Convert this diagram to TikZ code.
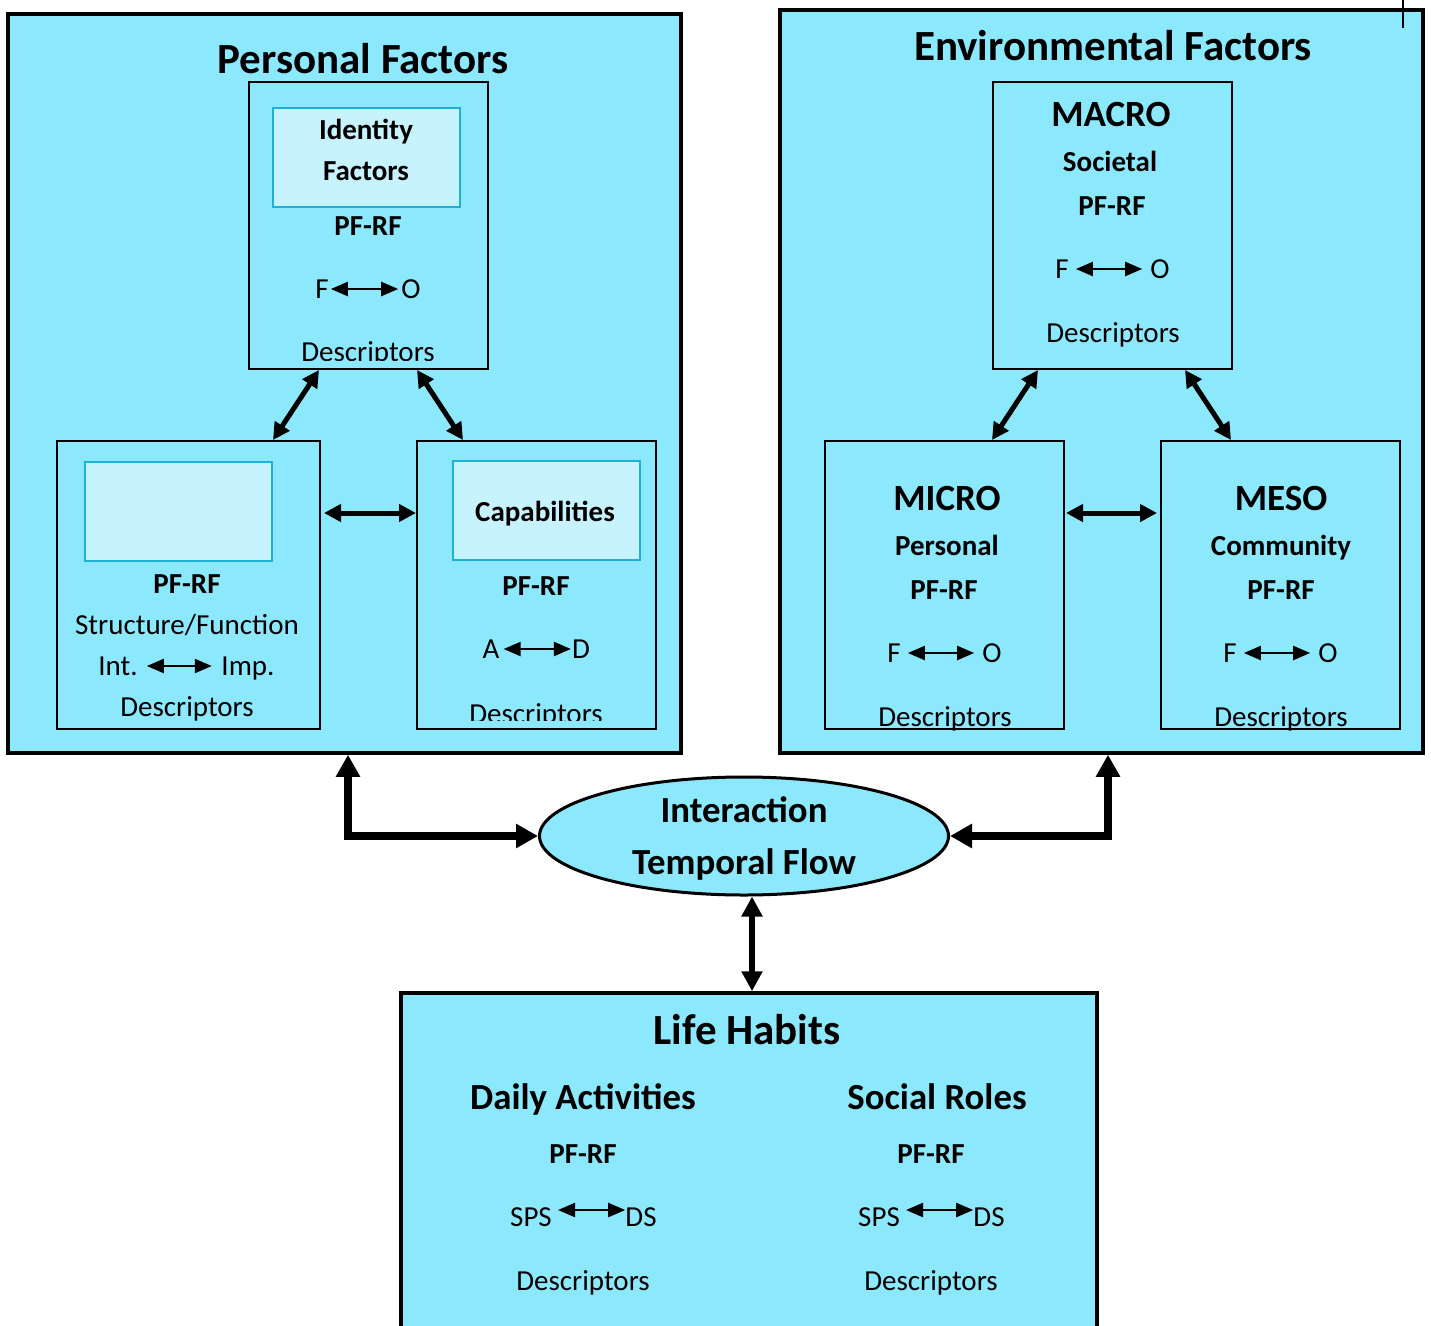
\documentclass[tikz,border=0pt]{standalone}
\usepackage{fontspec}
\setmainfont{Carlito}
\usetikzlibrary{arrows.meta,shapes.geometric}
\definecolor{panel}{RGB}{139,232,253}
\definecolor{inset}{RGB}{198,243,254}
\definecolor{insetline}{RGB}{30,176,214}

\begin{document}
\begin{tikzpicture}[x=1pt,y=-1pt,
  panelbox/.style={draw, line width=3.5pt, fill=panel, inner sep=0pt},
  subbox/.style={draw, line width=2pt, fill=panel, inner sep=0pt},
  litebox/.style={draw=insetline, line width=1.3pt, fill=inset, inner sep=0pt},
  ovalbox/.style={ellipse, draw, line width=3pt, fill=panel, inner sep=0pt},
  txt/.style={inner sep=0pt, text depth=0pt, anchor=center},
  r29/.style={txt, text height=18.3pt, font=\fontsize{29pt}{31pt}\selectfont},
  b29/.style={txt, text height=18.3pt, font=\fontsize{29pt}{31pt}\bfseries\selectfont},
  b36/.style={txt, text height=23.2pt, font=\fontsize{36.8pt}{39pt}\bfseries\selectfont},
  b37/.style={txt, text height=23.3pt, font=\fontsize{37pt}{39pt}\bfseries\selectfont},
  b42/.style={txt, text height=27.1pt, font=\fontsize{43pt}{45pt}\bfseries\selectfont},
  inl/.style={line width=2.2pt, {Triangle[length=17pt,width=14pt]}-{Triangle[length=17pt,width=14pt]}},
  midarrow/.style={line width=5pt, {Triangle[length=17pt,width=17pt]}-{Triangle[length=17pt,width=17pt]}},
  elbow/.style={line width=8pt, line join=miter, {Triangle[length=22pt,width=23pt]}-{Triangle[length=22pt,width=23pt]}},
  vlink/.style={line width=6pt, {Triangle[length=20pt,width=20pt]}-{Triangle[length=20pt,width=20pt]}}
]
\useasboundingbox (0,0) rectangle (1431,1325);
\clip (0,0) rectangle (1431,1325);

% ---------- Personal factors ----------
\node[panelbox, minimum width=673pt, minimum height=739pt] (pf) at (344.5,383.5) {};
\node[b42] (pft) at (363,60) {Personal Factors};

\node[subbox, minimum width=239pt, minimum height=287pt] (idb) at (368.5,225.5) {};
\node[litebox, minimum width=187pt, minimum height=99pt] (idl) at (366.5,157.5) {};
\node[b29] (idt1) at (366,130) {Identity};
\node[b29] (idt2) at (366,171) {Factors};
\node[b29] (idp) at (368,226) {PF-RF};
\node[r29] (idf) at (322,289) {F};
\node[r29] (ido) at (411,289) {O};
\draw[inl, shorten <=2pt, shorten >=3pt] (idf.east) -- (ido.west);
\begin{scope}
  \clip (249,82) rectangle (488,360);
  \node[r29] (idd) at (368,352.5) {Descriptors};
\end{scope}

\node[subbox, minimum width=263pt, minimum height=288pt] (sfb) at (188.5,585) {};
\node[litebox, minimum width=187pt, minimum height=99pt] (sfl) at (178.5,511.5) {};
\node[b29] (sfp) at (187,584) {PF-RF};
\node[r29] (sft) at (187,625) {Structure/Function};
\node[r29] (sfi) at (118,666) {Int.};
\node[r29] (sfm) at (248,666) {Imp.};
\draw[inl, shorten <=9pt, shorten >=9.5pt] (sfi.east) -- (sfm.west);
\node[r29] (sfd) at (187,707) {Descriptors};

\node[subbox, minimum width=239pt, minimum height=288pt] (cpb) at (536.5,585) {};
\node[litebox, minimum width=187pt, minimum height=99pt] (cpl) at (546.5,510.5) {};
\node[b29] (cpt) at (545,512) {Capabilities};
\node[b29] (cpp) at (536,586) {PF-RF};
\node[r29] (cpa) at (491,649) {A};
\node[r29] (cpd) at (581,649) {D};
\draw[inl, shorten <=4pt, shorten >=1pt] (cpa.east) -- (cpd.west);
\begin{scope}
  \clip (417,441) rectangle (656,720);
  \node[r29] (cpx) at (536,714.5) {Descriptors};
\end{scope}

\draw[midarrow] ([xshift=71pt]idb.south west) -- ([xshift=217pt]sfb.north west);
\draw[midarrow] ([xshift=169pt]idb.south west) -- ([xshift=47pt]cpb.north west);
\draw[midarrow, shorten <=3pt] ([yshift=72pt]sfb.east) -- ([yshift=72pt]cpb.west);

% ---------- Environmental factors ----------
\node[panelbox, minimum width=643pt, minimum height=743pt] (env) at (1101.5,381.5) {};
\node[b42] (envt) at (1113,47) {Environmental Factors};
\coordinate (tickt) at (1403,0);
\coordinate (tickb) at (1403,28);
\draw[line width=1.5pt] (tickt) -- (tickb);

\node[subbox, minimum width=239pt, minimum height=287pt] (mab) at (1112.5,225.5) {};
\node[b37] (mat) at (1111,115) {MACRO};
\node[b29] (mas) at (1110,162) {Societal};
\node[b29] (map) at (1112,206) {PF-RF};
\node[r29] (maf) at (1062,269) {F};
\node[r29] (mao) at (1160,269) {O};
\draw[inl, shorten <=7pt, shorten >=8pt] (maf.east) -- (mao.west);
\node[r29] (mad) at (1113,333) {Descriptors};

\node[subbox, minimum width=239pt, minimum height=288pt] (mib) at (944.5,585) {};
\node[b37] (mit) at (947,499) {MICRO};
\node[b29] (mis) at (947,546) {Personal};
\node[b29] (mip) at (944,590) {PF-RF};
\node[r29] (mif) at (894,653) {F};
\node[r29] (mio) at (992,653) {O};
\draw[inl, shorten <=7pt, shorten >=8pt] (mif.east) -- (mio.west);
\node[r29] (mid) at (945,717) {Descriptors};

\node[subbox, minimum width=239pt, minimum height=288pt] (meb) at (1280.5,585) {};
\node[b37] (met) at (1281,499) {MESO};
\node[b29] (mes) at (1281,546) {Community};
\node[b29] (mep) at (1281,590) {PF-RF};
\node[r29] (mef) at (1230,653) {F};
\node[r29] (meo) at (1328,653) {O};
\draw[inl, shorten <=7pt, shorten >=8pt] (mef.east) -- (meo.west);
\node[r29] (med) at (1281,717) {Descriptors};

\draw[midarrow] ([xshift=46pt]mab.south west) -- ([xshift=168pt]mib.north west);
\draw[midarrow] ([xshift=193pt]mab.south west) -- ([xshift=71pt]meb.north west);
\draw[midarrow, shorten <=1pt, shorten >=3pt] ([yshift=72pt]mib.east) -- ([yshift=72pt]meb.west);

% ---------- Interaction ----------
\node[ovalbox, minimum width=409pt, minimum height=118pt] (ia) at (744,836) {};
\node[b36] (iat1) at (744,811) {Interaction};
\node[b36] (iat2) at (744,863) {Temporal Flow};

\draw[elbow] (ia.west) -| ([xshift=3.5pt]pf.south);
\draw[elbow] (ia.east) -| ([xshift=6.5pt]env.south);

% ---------- Life habits ----------
\node[panelbox, minimum width=696pt, minimum height=360pt] (lh) at (749,1173) {};
\draw[vlink] ([xshift=8pt]ia.south) -- ([xshift=3pt]lh.north);
\node[b42] (lht) at (747,1031) {Life Habits};

\node[b36] (dat) at (583,1098) {Daily Activities};
\node[b29] (dap) at (583,1154) {PF-RF};
\node[r29] (das) at (531,1217) {SPS};
\node[r29] (dad) at (641,1217) {DS};
\draw[inl, shorten <=6pt, shorten >=0pt] ([yshift=7pt]das.east) -- ([yshift=7pt]dad.west);
\node[r29] (dax) at (583,1281) {Descriptors};

\node[b36] (srt) at (937,1098) {Social Roles};
\node[b29] (srp) at (931,1154) {PF-RF};
\node[r29] (srs) at (879,1217) {SPS};
\node[r29] (srd) at (989,1217) {DS};
\draw[inl, shorten <=6pt, shorten >=0pt] ([yshift=7pt]srs.east) -- ([yshift=7pt]srd.west);
\node[r29] (srx) at (931,1281) {Descriptors};
\end{tikzpicture}
\end{document}
